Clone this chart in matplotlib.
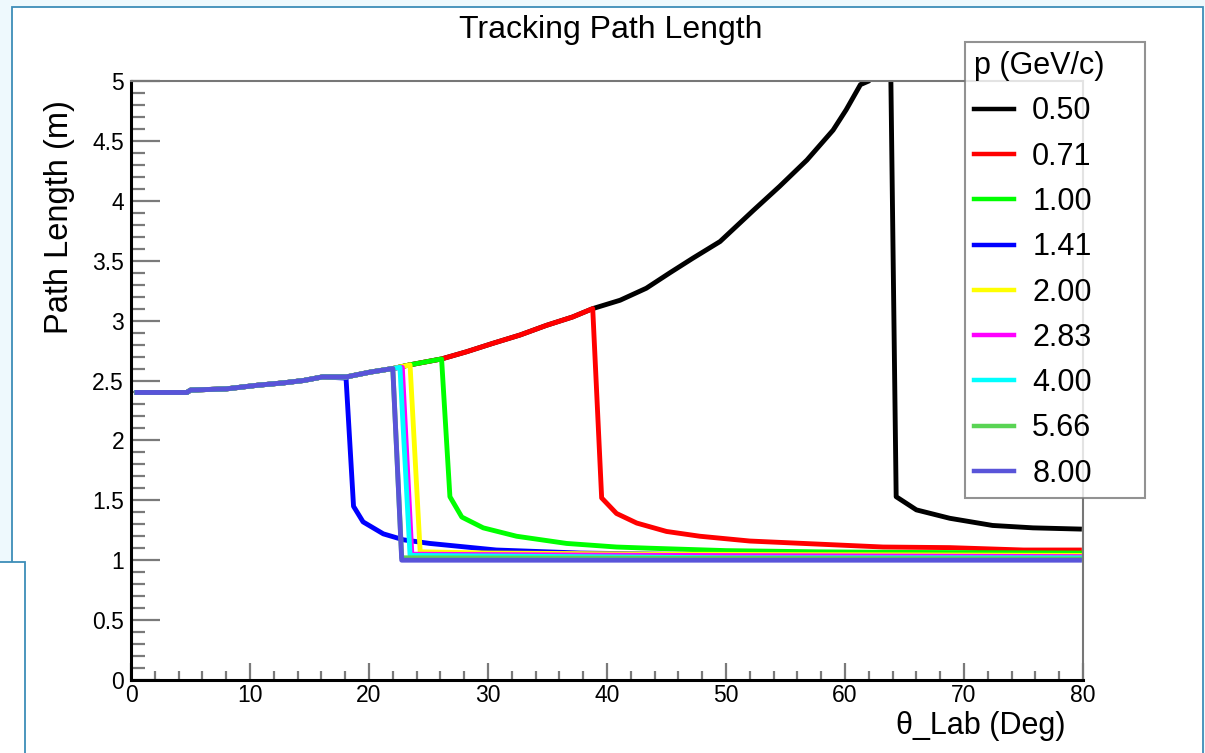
import numpy as np
import matplotlib
matplotlib.use("Agg")
import matplotlib.pyplot as plt
from matplotlib.ticker import MultipleLocator, FuncFormatter
from matplotlib.patches import Rectangle

plt.rcParams['font.family'] = ['Liberation Sans', 'DejaVu Sans']

# shared rising branch (track leaves through the endcap)
theta_common = [0.5, 4.7, 5.0, 8.0, 10.6, 12.8, 14.5, 16.1, 18.1, 20.1, 22.0,
                23.4, 26.1, 28.2, 30.4, 32.7, 34.9, 37.1, 38.8, 41.1, 43.3,
                45.3, 47.2, 49.5, 52.3, 54.5, 56.8, 59.0, 60.1, 61.3, 62.0]
path_common = [2.40, 2.40, 2.42, 2.43, 2.46, 2.48, 2.50, 2.53, 2.53, 2.57, 2.60,
               2.63, 2.68, 2.74, 2.81, 2.88, 2.96, 3.03, 3.10, 3.17, 3.27,
               3.40, 3.52, 3.66, 3.92, 4.12, 4.34, 4.59, 4.76, 4.97, 5.00]

momenta = ['0.50', '0.71', '1.00', '1.41', '2.00', '2.83', '4.00', '5.66', '8.00']
colors = ['#000000', '#ff0000', '#00ff00', '#0000ff', '#ffff00',
          '#ff00ff', '#00ffff', '#59d454', '#5954d9']

# number of shared points before each curve turns off, then its own tail
n_shared = [31, 19, 13, 8, 11, 11, 11, 10, 10]
theta_tail = [
    [63.6, 64.3, 66.0, 68.8, 72.4, 75.8, 79.7],
    [39.55, 40.8, 42.5, 45.0, 47.8, 52.0, 57.6, 63.2, 68.8, 75.0, 79.7],
    [26.8, 27.8, 29.6, 32.4, 36.6, 40.8, 43.6, 50.0, 57.6, 65.0, 79.7],
    [18.07, 18.7, 19.5, 21.2, 22.9, 25.1, 30.7, 37.7, 45.0, 60.0, 79.7],
    [23.45, 24.3, 30.0, 45.0, 79.7],
    [22.8, 23.6, 45.0, 79.7],
    [22.6, 23.45, 50.0, 79.7],
    [22.0, 22.75, 79.7],
    [22.0, 22.75, 79.7],
]
path_tail = [
    [7.0, 1.53, 1.42, 1.35, 1.29, 1.27, 1.26],
    [1.52, 1.39, 1.31, 1.24, 1.20, 1.16, 1.135, 1.11, 1.105, 1.085, 1.085],
    [1.53, 1.36, 1.27, 1.20, 1.14, 1.11, 1.10, 1.08, 1.07, 1.065, 1.06],
    [2.52, 1.45, 1.32, 1.22, 1.17, 1.14, 1.085, 1.06, 1.05, 1.04, 1.03],
    [2.63, 1.07, 1.06, 1.05, 1.04],
    [2.61, 1.05, 1.04, 1.03],
    [2.61, 1.04, 1.02, 1.02],
    [2.60, 1.02, 1.01],
    [2.60, 1.00, 1.00],
]

W, H = 1205, 753
fig = plt.figure(figsize=(W / 100, H / 100), dpi=100)
fig.patch.set_facecolor('#eef9fd')

# canvas frames
fig.add_artist(Rectangle((12 / W, -0.01), (1203 - 12) / W, 1 - 7 / H + 0.01,
                         transform=fig.transFigure, facecolor='white',
                         edgecolor='#3d8db8', lw=1.3, zorder=-2))
fig.add_artist(Rectangle((-0.01, -0.01), 25 / W + 0.01, (H - 562) / H + 0.01,
                         transform=fig.transFigure, facecolor='white',
                         edgecolor='#3d8db8', lw=1.3, zorder=-1))

ax = fig.add_axes([131 / W, (H - 680) / H, (1083 - 131) / W, (680 - 81) / H])
ax.set_facecolor('white')

for i in range(len(momenta)):
    n = n_shared[i]
    x = theta_common[:n] + theta_tail[i]
    y = path_common[:n] + path_tail[i]
    ax.plot(x, y, color=colors[i], lw=3.5, label=momenta[i])

ax.set_xlim(0, 80)
ax.set_ylim(0, 5)
ax.xaxis.set_major_locator(MultipleLocator(10))
ax.xaxis.set_minor_locator(MultipleLocator(2))
ax.yaxis.set_major_locator(MultipleLocator(0.5))
ax.yaxis.set_minor_locator(MultipleLocator(0.1))
ax.yaxis.set_major_formatter(FuncFormatter(lambda v, p: '%g' % v))

ax.tick_params(axis='y', which='major', direction='in', length=21, width=1.6,
               color='#7a7a7a', labelsize=16.5, pad=5)
ax.tick_params(axis='y', which='minor', direction='in', length=10, width=1.6,
               color='#7a7a7a')
ax.tick_params(axis='x', which='major', direction='in', length=12, width=1.6,
               color='#7a7a7a', labelsize=16.5, pad=3)
ax.tick_params(axis='x', which='minor', direction='in', length=6.5, width=1.6,
               color='#7a7a7a')

for s in ['left', 'bottom']:
    ax.spines[s].set_linewidth(2.2)
    ax.spines[s].set_color('black')
for s in ['top', 'right']:
    ax.spines[s].set_linewidth(1.5)
    ax.spines[s].set_color('#777777')

fig.text(611 / W, 1 - 30 / H, 'Tracking Path Length', ha='center', va='center',
         fontsize=23)
fig.text(60 / W, 1 - 100 / H, 'Path Length (m)', rotation=90, ha='center',
         va='top', fontsize=23.5)
fig.text(1066 / W, 1 - 726 / H, 'θ_Lab (Deg)', ha='right', va='center',
         fontsize=22)

leg = ax.legend(title='p (GeV/c)', loc='upper left',
                bbox_to_anchor=(965 / W, 1 - 492 / H, 180 / W, 450 / H),
                bbox_transform=fig.transFigure, mode='expand',
                fontsize=22, title_fontsize=22,
                frameon=True, fancybox=False, edgecolor='#777777',
                handlelength=1.3, handletextpad=0.6, labelspacing=0.5,
                borderaxespad=0, borderpad=0.3, alignment='left')
leg.get_frame().set_linewidth(1.5)
for line in leg.get_lines():
    line.set_linewidth(3.2)

fig.savefig('out.png', dpi=100, facecolor=fig.get_facecolor())
